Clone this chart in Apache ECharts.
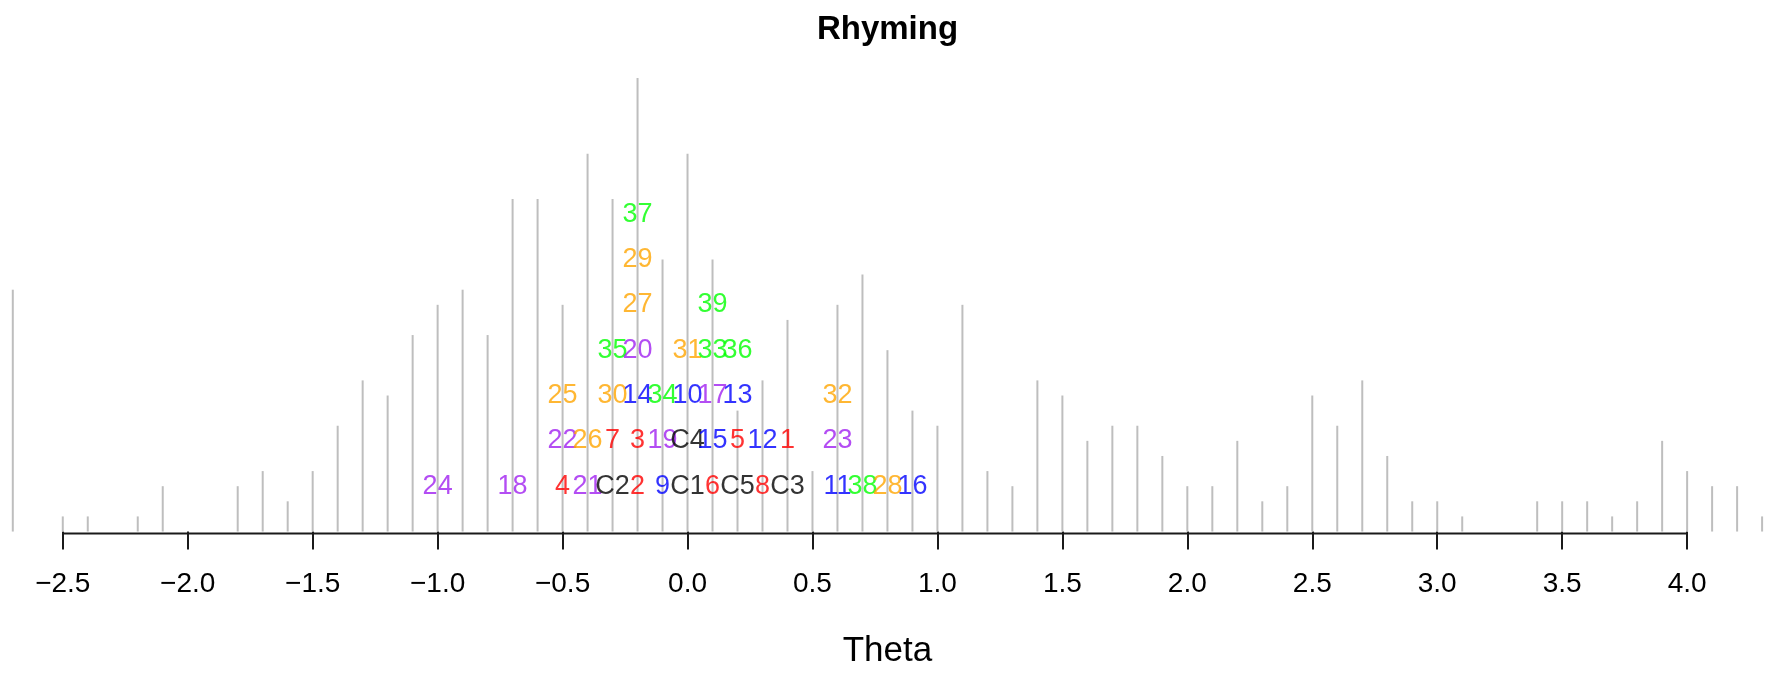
<!DOCTYPE html>
<html>
<head>
<meta charset="utf-8">
<script src="https://cdn.jsdelivr.net/npm/echarts@6/dist/echarts.min.js"></script>
<style>
html,body{margin:0;padding:0;background:#ffffff;}
#c{width:1775px;height:674px;}
</style>
</head>
<body>
<div id="c"></div>
<script>
// ---- data ----
const chartTitle = 'Rhyming';
const axisTitle = 'Theta';
const thetaBins = [-2.7,-2.5,-2.4,-2.2,-2.1,-1.8,-1.7,-1.6,-1.5,-1.4,-1.3,-1.2,-1.1,-1.0,-0.9,-0.8,-0.7,-0.6,-0.5,-0.4,-0.3,-0.2,-0.1,0.0,0.1,0.2,0.3,0.4,0.5,0.6,0.7,0.8,0.9,1.0,1.1,1.2,1.3,1.4,1.5,1.6,1.7,1.8,1.9,2.0,2.1,2.2,2.3,2.4,2.5,2.6,2.7,2.8,2.9,3.0,3.1,3.4,3.5,3.6,3.7,3.8,3.9,4.0,4.1,4.2,4.3];
const binCounts = [16,1,1,1,3,3,4,2,4,7,10,9,13,15,16,13,22,22,15,25,22,30,18,25,18,8,10,14,4,15,17,12,8,7,15,4,3,10,9,6,7,7,5,3,3,6,2,3,9,7,10,5,2,2,1,2,2,2,1,2,6,4,3,3,1];
const tickValues = [-2.5,-2.0,-1.5,-1.0,-0.5,0.0,0.5,1.0,1.5,2.0,2.5,3.0,3.5,4.0];
const itemLabels = ['24','18','4','21','C2','2','9','C1','6','C5','8','C3','11','38','28','16',
                    '22','26','7','3','19','C4','15','5','12','1','23',
                    '25','30','14','34','10','17','13','32',
                    '35','20','31','33','36',
                    '27','39',
                    '29',
                    '37'];
const itemTheta = [-1.0,-0.7,-0.5,-0.4,-0.3,-0.2,-0.1,0.0,0.1,0.2,0.3,0.4,0.6,0.7,0.8,0.9,
                   -0.5,-0.4,-0.3,-0.2,-0.1,0.0,0.1,0.2,0.3,0.4,0.6,
                   -0.5,-0.3,-0.2,-0.1,0.0,0.1,0.2,0.6,
                   -0.3,-0.2,0.0,0.1,0.2,
                   -0.2,0.1,
                   -0.2,
                   -0.2];
// colours by item block: 1-8, 9-16, 17-24, 25-32, 33-39; C items black
const groupColors = ['#FF0000','#0000FF','#A020F0','#FFA500','#00FF00'];
const anchorColor = '#000000';
const labelStep = 3;   // vertical spacing of stacked labels, in count units

// ---- build ----
function labelColor(t){
  if (t.charAt(0) === 'C') return anchorColor;
  const n = parseInt(t,10);
  return groupColors[Math.min(Math.floor((n-1)/8), groupColors.length-1)];
}
const stackCount = {};
const labelData = itemLabels.map((t,i)=>{
  const key = itemTheta[i].toFixed(1);
  stackCount[key] = (stackCount[key]||0) + 1;
  return {name:t, value:[itemTheta[i], stackCount[key]*labelStep], label:{color:labelColor(t)}};
});
const barData = thetaBins.map((x,i)=>[x, binCounts[i]]);
const yMin = -0.13, yMax = 30;
const FONT = 'Liberation Sans, Arial, Helvetica, sans-serif';

const chart = echarts.init(document.getElementById('c'), null, {renderer:'canvas'});
chart.setOption({
  animation:false,
  backgroundColor:'#ffffff',
  title:{
    text:chartTitle, left:'center', top:8,
    textStyle:{fontFamily:FONT, fontWeight:'bold', fontSize:33, color:'#000000'}
  },
  grid:{left:12.8, right:12.9, top:78.1, bottom:134},
  xAxis:{
    type:'value', min:-2.7, max:4.3,
    splitLine:{show:false},
    axisLine:{show:false},
    axisTick:{show:true, customValues:tickValues, length:18, lineStyle:{color:'#1a1a1a', width:2}},
    axisLabel:{customValues:tickValues, margin:51, verticalAlign:'middle',
      fontFamily:FONT, fontSize:28, color:'#000000',
      formatter:v=>v.toFixed(1).replace('-','\u2212')},
    name:axisTitle, nameLocation:'middle', nameGap:118,
    nameTextStyle:{fontFamily:FONT, fontSize:35, color:'#000000', verticalAlign:'middle'}
  },
  yAxis:{type:'value', min:yMin, max:yMax, show:false, splitLine:{show:false}},
  series:[
    {type:'bar', data:barData, barWidth:2, itemStyle:{color:'#bebebe'}, silent:true, z:1},
    {type:'line', data:[[tickValues[0], yMin],[tickValues[tickValues.length-1], yMin]],
      symbol:'none', clip:false, silent:true, z:3,
      lineStyle:{color:'#1a1a1a', width:2}},
    {type:'scatter', data:labelData, symbolSize:1, itemStyle:{color:'rgba(0,0,0,0)'}, silent:true, z:4,
      label:{show:true, position:'inside', formatter:'{b}', fontFamily:FONT, fontSize:27}}
  ]
});
</script>
</body>
</html>
